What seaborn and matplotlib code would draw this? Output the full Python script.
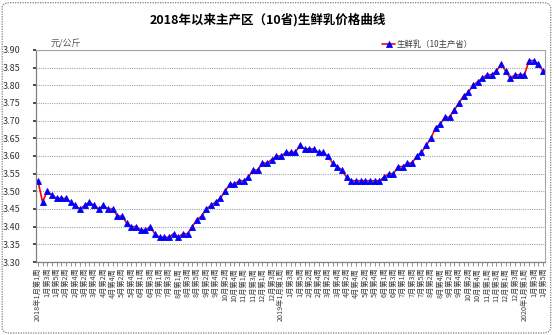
import numpy as np
import pandas as pd
import matplotlib
matplotlib.use("Agg")
import matplotlib.pyplot as plt
from matplotlib.patches import FancyBboxPatch
from matplotlib.ticker import FixedLocator, FuncFormatter
import seaborn as sns

# Weekly calendar: Jan 2018 .. Jan 2020
years = [2018] * 12 + [2019] * 12 + [2020]
months = list(range(1, 13)) * 2 + [1]
weeks_in_month = [5, 4, 4, 4, 5, 4, 4, 5, 4, 5, 4, 4,
                  5, 4, 4, 4, 5, 4, 5, 4, 4, 5, 4, 4,
                  5]

# Raw-milk price, 10 main producing provinces (yuan/kg)
prices = [3.53, 3.47, 3.50, 3.49, 3.48, 3.48, 3.48, 3.47, 3.46, 3.45,
          3.46, 3.47, 3.46, 3.45, 3.46, 3.45, 3.45, 3.43, 3.43, 3.41,
          3.40, 3.40, 3.39, 3.39, 3.40, 3.38, 3.37, 3.37, 3.37, 3.38,
          3.37, 3.38, 3.38, 3.40, 3.42, 3.43, 3.45, 3.46, 3.47, 3.48,
          3.50, 3.52, 3.52, 3.53, 3.53, 3.54, 3.56, 3.56, 3.58, 3.58,
          3.59, 3.60, 3.60, 3.61, 3.61, 3.61, 3.63, 3.62, 3.62, 3.62,
          3.61, 3.61, 3.60, 3.58, 3.57, 3.56, 3.54, 3.53, 3.53, 3.53,
          3.53, 3.53, 3.53, 3.53, 3.54, 3.55, 3.55, 3.57, 3.57, 3.58,
          3.58, 3.60, 3.61, 3.63, 3.65, 3.68, 3.69, 3.71, 3.71, 3.73,
          3.75, 3.77, 3.78, 3.80, 3.81, 3.82, 3.83, 3.83, 3.84, 3.86,
          3.84, 3.82, 3.83, 3.83, 3.83, 3.87, 3.87, 3.86, 3.84]

y_ticks = [3.30, 3.35, 3.40, 3.45, 3.50, 3.55, 3.60, 3.65, 3.70, 3.75, 3.80, 3.85, 3.90]

title = "2018年以来主产区（10省)生鲜乳价格曲线"
unit = "元/公斤"
series_name = "生鲜乳（10主产省）"

# Build week labels
week_labels = []
for y, m, n in zip(years, months, weeks_in_month):
    for w in range(1, n + 1):
        prefix = f"{y}年" if (m == 1 and w == 1) else ""
        week_labels.append(f"{prefix}{m}月第{w}周")

df = pd.DataFrame({"week": np.arange(len(prices)), "price": prices})

sns.set_theme(style="white")
plt.rcParams["font.family"] = ["Noto Sans CJK SC", "DejaVu Sans"]
plt.rcParams["axes.unicode_minus"] = False

W, H = 554, 335
fig = plt.figure(figsize=(W / 100, H / 100), dpi=100)
fig.patch.set_facecolor("white")
ax = fig.add_axes([36 / W, 1 - 262 / H, (545 - 36) / W, (262 - 50) / H])

sns.lineplot(data=df, x="week", y="price", ax=ax, color="#FF0000", linewidth=1.2,
             marker="^", markersize=5, markerfacecolor="#0000FF",
             markeredgecolor="#0000FF", markeredgewidth=0.6, label=series_name)
if ax.get_legend() is not None:
    ax.get_legend().remove()

ax.set_xlim(-0.4, len(prices) - 1 + 0.4)
ax.set_ylim(3.30, 3.90)
ax.set_xlabel("")
ax.set_ylabel("")

# y axis
ax.yaxis.set_major_locator(FixedLocator(y_ticks))
ax.yaxis.set_major_formatter(FuncFormatter(lambda v, p: f"{v:.2f}"))
ax.tick_params(axis="y", labelsize=6.5, length=2, pad=9, colors="#333333",
               left=True, direction="out")

# x axis: tick at every week, label every other week
label_pos = list(range(0, len(week_labels), 2))
ax.set_xticks(label_pos)
ax.set_xticklabels([week_labels[i] for i in label_pos], rotation=90,
                   fontsize=5.2, color="#404040", va="top", ha="center")
ax.xaxis.set_minor_locator(FixedLocator(np.arange(len(prices))))
ax.tick_params(axis="x", which="both", length=3, pad=1, bottom=True,
               direction="out", color="#808080", width=0.6)

ax.yaxis.grid(True, color="#A6A6A6", linestyle=(0, (1, 1)), linewidth=0.8)
ax.xaxis.grid(False)

for side in ("left", "bottom"):
    ax.spines[side].set_color("#808080")
    ax.spines[side].set_linewidth(0.9)
for side in ("top", "right"):
    ax.spines[side].set_color("#A6A6A6")
    ax.spines[side].set_linestyle((0, (1, 1)))
    ax.spines[side].set_linewidth(0.8)

# Title, unit and legend
fig.text(268 / W, 1 - 20 / H, title, ha="center", va="center",
         fontsize=9, fontweight="bold", color="#000000")
fig.text(51 / W, 1 - 44 / H, unit, ha="left", va="center",
         fontsize=6.5, color="#595959")
handles, labels = ax.get_legend_handles_labels()
fig.legend(handles, labels, loc="center left", bbox_to_anchor=(382 / W, 1 - 44 / H),
           frameon=False, fontsize=6, handlelength=1.6, handletextpad=0.2,
           borderpad=0, borderaxespad=0, labelcolor="#404040")

# Rounded chart frame
frame = FancyBboxPatch((0.004, 0.006), 0.99, 0.986,
                       boxstyle="round,pad=0,rounding_size=0.015",
                       transform=fig.transFigure, fill=False,
                       edgecolor="#808080", linestyle=(0, (1, 1)), linewidth=0.9)
fig.patches.append(frame)

fig.savefig("out.png", dpi=100)
